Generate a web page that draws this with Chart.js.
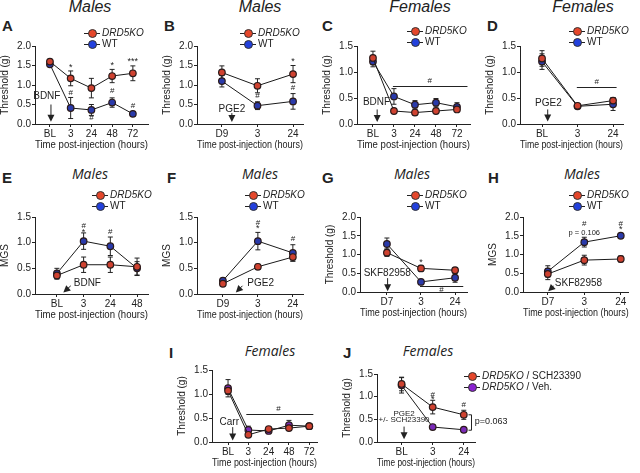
<!DOCTYPE html>
<html lang="en">
<head>
<meta charset="UTF-8">
<title>DRD5KO panels</title>
<script src="https://cdn.jsdelivr.net/npm/chart.js"></script>
<style>
    body { margin:0; width:640px; height:473px; position:relative; overflow:hidden; background:#fff;
           font-family:"Liberation Sans Narrow","Liberation Sans",Arial,sans-serif; color:#222; }
    canvas { position:absolute; }
    .ttl { position:absolute; font-style:italic; line-height:1; white-space:nowrap; transform:translateX(-50%); }
    .r1 { font-family:"Liberation Sans",Arial,sans-serif; font-size:16px; }
    .r2 { font-family:"Open Sans",sans-serif; font-size:14px; }
    .let { position:absolute; font-family:"Liberation Sans",Arial,sans-serif; font-weight:bold; font-size:15px; line-height:1; }
    .lg { position:absolute; font-size:10px; line-height:10.5px; white-space:nowrap; }
    .lg div { height:10.5px; }
    .mk { display:inline-block; position:relative; width:16px; height:10.5px; vertical-align:top; margin-right:2px; }
    .mk:before { content:""; position:absolute; left:0; right:0; top:5px; border-top:1px solid #222; }
    .mk:after { content:""; position:absolute; left:3.5px; top:1px; width:7px; height:7px; border-radius:50%;
                background:var(--c); border:1px solid #333; }
</style>
</head>
<body>
<div class="let" style="left:2px;top:18px">A</div>
<div class="let" style="left:164px;top:18px">B</div>
<div class="let" style="left:322px;top:18px">C</div>
<div class="let" style="left:487px;top:18px">D</div>
<div class="let" style="left:2px;top:170px">E</div>
<div class="let" style="left:167px;top:170px">F</div>
<div class="let" style="left:322px;top:170px">G</div>
<div class="let" style="left:488px;top:170px">H</div>
<div class="let" style="left:169px;top:345px">I</div>
<div class="let" style="left:343px;top:345px">J</div>

<div class="ttl r1" style="left:90px;top:-1px">Males</div>
<div class="ttl r1" style="left:260px;top:-1px">Males</div>
<div class="ttl r1" style="left:420px;top:-1px">Females</div>
<div class="ttl r1" style="left:583px;top:-1px">Females</div>
<div class="ttl r2" style="left:90px;top:167px">Males</div>
<div class="ttl r2" style="left:260px;top:167px">Males</div>
<div class="ttl r2" style="left:412px;top:167px">Males</div>
<div class="ttl r2" style="left:582px;top:167px">Males</div>
<div class="ttl r2" style="left:270px;top:344px">Females</div>
<div class="ttl r2" style="left:428px;top:344px">Females</div>

<script>
// categories (x tick labels)
const catsBL5 = ['BL', '3', '24', '48', '72'];
const catsD9 = ['D9', '3', '24'];
const catsBL3 = ['BL', '3', '24'];
const catsBL4 = ['BL', '3', '24', '48'];
const catsD7 = ['D7', '3', '24'];

// A: males, threshold after BDNF
const koA = [1.60, 1.17, 0.92, 1.23, 1.30];
const koErrA = [0.05, 0.19, 0.25, 0.17, 0.19];
const wtA = [1.53, 0.41, 0.36, 0.55, 0.26];
const wtErrA = [0.04, 0.27, 0.14, 0.12, 0.06];
// B: males, threshold after PGE2
const koB = [1.32, 0.98, 1.28];
const koErrB = [0.17, 0.18, 0.22];
const wtB = [1.10, 0.47, 0.58];
const wtErrB = [0.15, 0.10, 0.20];
// C: females, threshold after BDNF
const koC = [1.27, 0.25, 0.22, 0.25, 0.28];
const koErrC = [0.13, 0.03, 0.05, 0.05, 0.04];
const wtC = [1.20, 0.53, 0.37, 0.41, 0.33];
const wtErrC = [0.10, 0.15, 0.08, 0.08, 0.08];
// D: females, threshold after PGE2
const koD = [1.26, 0.35, 0.45];
const koErrD = [0.15, 0.04, 0.06];
const wtD = [1.20, 0.34, 0.38];
const wtErrD = [0.15, 0.04, 0.12];
// E: males, MGS after BDNF
const koE = [0.36, 0.57, 0.57, 0.53];
const koErrE = [0.07, 0.15, 0.15, 0.17];
const wtE = [0.40, 1.03, 0.93, 0.50];
const wtErrE = [0.10, 0.16, 0.18, 0.13];
// F: males, MGS after PGE2
const koF = [0.20, 0.53, 0.72];
const koErrF = [0.03, 0.05, 0.08];
const wtF = [0.26, 1.03, 0.80];
const wtErrF = [0.03, 0.17, 0.16];
// G: males, threshold after SKF82958
const koG = [1.05, 0.63, 0.58];
const koErrG = [0.10, 0.08, 0.07];
const wtG = [1.28, 0.27, 0.38];
const wtErrG = [0.16, 0.04, 0.12];
// H: males, MGS after SKF82958
const koH = [0.48, 0.85, 0.88];
const koErrH = [0.15, 0.13, 0.08];
const wtH = [0.55, 1.33, 1.50];
const wtErrH = [0.15, 0.13, 0.05];
// I: females, threshold after carrageenan
const schI = [1.07, 0.15, 0.27, 0.29, 0.33];
const schErrI = [0.08, 0.03, 0.04, 0.03, 0.03];
const vehI = [1.12, 0.25, 0.23, 0.35, 0.33];
const vehErrI = [0.18, 0.08, 0.04, 0.10, 0.03];
// J: females, threshold after PGE2 +/- SCH23390
const schJ = [1.28, 0.77, 0.60];
const schErrJ = [0.15, 0.15, 0.10];
const vehJ = [1.25, 0.33, 0.27];
const vehErrJ = [0.17, 0.05, 0.05];

const names = ['DRD5KO', 'WT'];
const namesJ = ['DRD5KO / SCH23390', 'DRD5KO / Veh.'];

// marker fills on the plots are a bit darker than in the legends
const RED = '#cf4230', BLUE = '#2a3aaa', PURPLE = '#7a2ab8';
const LG_RED = '#e5472b', LG_BLUE = '#2341dd', LG_PURPLE = '#8a22d0';
const FONT = '"Liberation Sans Narrow","Liberation Sans",Arial,sans-serif';
const FONT_Y = '"Liberation Sans",Arial,sans-serif';
Chart.defaults.font.family = FONT;
Chart.defaults.font.size = 10;
Chart.defaults.color = '#222';

// error bars, drawn behind the points
const errBars = {
    id: 'errBars',
    beforeDatasetsDraw(chart) {
        const {ctx, scales: {x, y}} = chart;
        ctx.save();
        ctx.strokeStyle = '#222';
        ctx.lineWidth = 1;
        chart.data.datasets.forEach(ds => {
            ds.data.forEach((pt, i) => {
                const e = ds.err[i];
                const px = x.getPixelForValue(pt.x);
                const a = y.getPixelForValue(pt.y + e), b = y.getPixelForValue(pt.y - e);
                ctx.beginPath();
                ctx.moveTo(px, a); ctx.lineTo(px, b);
                ctx.moveTo(px - 2.5, a); ctx.lineTo(px + 2.5, a);
                ctx.moveTo(px - 2.5, b); ctx.lineTo(px + 2.5, b);
                ctx.stroke();
            });
        });
        ctx.restore();
    }
};

// significance marks, arrows, lines
function notesPlugin(notes) {
    return {
        id: 'notes',
        afterDatasetsDraw(chart) {
            const {ctx, scales: {x, y}} = chart;
            ctx.save();
            ctx.strokeStyle = '#222';
            ctx.fillStyle = '#222';
            ctx.lineWidth = 1;
            notes.forEach(n => {
                if (n.t === 'txt') {
                    ctx.font = (n.size || 8) + 'px ' + FONT;
                    ctx.textAlign = n.align || 'center';
                    ctx.textBaseline = 'middle';
                    ctx.fillText(n.s, x.getPixelForValue(n.x), y.getPixelForValue(n.y));
                } else if (n.t === 'hl') {
                    const yy = Math.round(y.getPixelForValue(n.y)) + 0.5;
                    ctx.beginPath();
                    ctx.moveTo(x.getPixelForValue(n.x1), yy);
                    ctx.lineTo(x.getPixelForValue(n.x2), yy);
                    ctx.stroke();
                } else if (n.t === 'arr') {
                    const x1 = x.getPixelForValue(n.x1), y1 = y.getPixelForValue(n.y1);
                    const x2 = x.getPixelForValue(n.x2), y2 = y.getPixelForValue(n.y2);
                    const ang = Math.atan2(y2 - y1, x2 - x1);
                    const c = Math.cos(ang), s = Math.sin(ang);
                    ctx.beginPath();
                    ctx.moveTo(x1, y1); ctx.lineTo(x2 - 5 * c, y2 - 5 * s);
                    ctx.stroke();
                    ctx.beginPath();
                    ctx.moveTo(x2, y2);
                    ctx.lineTo(x2 - 7 * c + 3.5 * s, y2 - 7 * s - 3.5 * c);
                    ctx.lineTo(x2 - 7 * c - 3.5 * s, y2 - 7 * s + 3.5 * c);
                    ctx.closePath();
                    ctx.fill();
                } else if (n.t === 'br') {
                    const bx = Math.round(x.getPixelForValue(n.x)) + 0.5;
                    const a = y.getPixelForValue(n.y1), b = y.getPixelForValue(n.y2);
                    ctx.beginPath();
                    ctx.moveTo(bx - 3, a); ctx.lineTo(bx, a); ctx.lineTo(bx, b); ctx.lineTo(bx - 3, b);
                    ctx.stroke();
                }
            });
            ctx.restore();
        }
    };
}

const panels = [
    {cats: catsBL5, sets: [[koA, koErrA, RED], [wtA, wtErrA, BLUE]], ymax: 2, ytitle: 'Threshold (g)',
     x0: 35, x1: 148, yT: 46, yB: 124, xmin: -0.72, xmax: 4.73,
     notes: [
        {t: 'txt', x: 1, y: 1.45, s: '*', size: 9}, {t: 'txt', x: 1, y: 0.8, s: '#'},
        {t: 'txt', x: 2, y: 0.15, s: '#'}, {t: 'txt', x: 3, y: 1.49, s: '*', size: 9},
        {t: 'txt', x: 3, y: 0.85, s: '#'}, {t: 'txt', x: 4, y: 1.6, s: '***', size: 9},
        {t: 'txt', x: 4, y: 0.46, s: '#'},
        {t: 'txt', x: -0.15, y: 0.7, s: 'BDNF', size: 10},
        {t: 'arr', x1: 0.05, y1: 0.5, x2: 0.05, y2: 0.06}]},
    {cats: catsD9, sets: [[koB, koErrB, RED], [wtB, wtErrB, BLUE]], ymax: 2, ytitle: 'Threshold (g)',
     x0: 197, x1: 303, yT: 46, yB: 124, xmin: -0.7, xmax: 2.28,
     notes: [
        {t: 'txt', x: 2, y: 1.6, s: '*', size: 9}, {t: 'txt', x: 1, y: 0.72, s: '#'},
        {t: 'txt', x: 2, y: 0.93, s: '#'},
        {t: 'txt', x: 0.28, y: 0.38, s: 'PGE2', size: 10},
        {t: 'arr', x1: 0.28, y1: 0.28, x2: 0.28, y2: 0.05}]},
    {cats: catsBL5, sets: [[koC, koErrC, RED], [wtC, wtErrC, BLUE]], ymax: 1.5, ytitle: 'Threshold (g)',
     x0: 357, x1: 470, yT: 46, yB: 124, xmin: -0.76, xmax: 4.62,
     notes: [
        {t: 'hl', x1: 0.95, x2: 4.5, y: 0.73}, {t: 'txt', x: 2.7, y: 0.84, s: '#'},
        {t: 'txt', x: 0.17, y: 0.42, s: 'BDNF', size: 10},
        {t: 'arr', x1: 0.2, y1: 0.28, x2: 0.2, y2: 0.04}]},
    {cats: catsBL3, sets: [[koD, koErrD, RED], [wtD, wtErrD, BLUE]], ymax: 1.5, ytitle: 'Threshold (g)',
     x0: 520, x1: 623, yT: 46, yB: 124, xmin: -0.62, xmax: 2.28,
     notes: [
        {t: 'hl', x1: 0.98, x2: 2.1, y: 0.71}, {t: 'txt', x: 1.54, y: 0.82, s: '#'},
        {t: 'txt', x: 0.18, y: 0.4, s: 'PGE2', size: 10},
        {t: 'arr', x1: 0.16, y1: 0.28, x2: 0.16, y2: 0.05}]},
    {cats: catsBL4, sets: [[koE, koErrE, RED], [wtE, wtErrE, BLUE]], ymax: 1.5, ytitle: 'MGS',
     x0: 35, x1: 148, yT: 217, yB: 294, xmin: -0.82, xmax: 3.41,
     notes: [
        {t: 'txt', x: 1, y: 1.32, s: '#'}, {t: 'txt', x: 1, y: 1.2, s: '*', size: 9},
        {t: 'txt', x: 2, y: 1.22, s: '#'},
        {t: 'txt', x: 1.14, y: 0.21, s: 'BDNF', size: 10},
        {t: 'arr', x1: 0.52, y1: 0.16, x2: 0.24, y2: 0.03}]},
    {cats: catsD9, sets: [[koF, koErrF, RED], [wtF, wtErrF, BLUE]], ymax: 1.5, ytitle: 'MGS',
     x0: 197, x1: 303, yT: 217, yB: 294, xmin: -0.74, xmax: 2.29,
     notes: [
        {t: 'txt', x: 1, y: 1.38, s: '#'}, {t: 'txt', x: 1, y: 1.27, s: '*', size: 9},
        {t: 'txt', x: 2, y: 1.07, s: '#'},
        {t: 'txt', x: 1.08, y: 0.21, s: 'PGE2', size: 10},
        {t: 'arr', x1: 0.56, y1: 0.16, x2: 0.37, y2: 0.03}]},
    {cats: catsD7, sets: [[koG, koErrG, RED], [wtG, wtErrG, BLUE]], ymax: 2, ytitle: 'Threshold (g)',
     x0: 360, x1: 467, yT: 217, yB: 292, xmin: -0.79, xmax: 2.35,
     notes: [
        {t: 'txt', x: 1, y: 0.78, s: '*', size: 9},
        {t: 'hl', x1: 0.97, x2: 2.24, y: 0.15}, {t: 'txt', x: 1.6, y: 0.07, s: '#'},
        {t: 'txt', x: 0.01, y: 0.5, s: 'SKF82958', size: 10},
        {t: 'arr', x1: 0.02, y1: 0.37, x2: 0.02, y2: 0.02}]},
    {cats: catsD7, sets: [[koH, koErrH, RED], [wtH, wtErrH, BLUE]], ymax: 2, ytitle: 'MGS',
     x0: 523, x1: 630, yT: 217, yB: 292, xmin: -0.68, xmax: 2.22, padR: 4,
     notes: [
        {t: 'txt', x: 1, y: 1.81, s: '#'}, {t: 'txt', x: 1, y: 1.58, s: 'p = 0.106', size: 7.5},
        {t: 'txt', x: 2, y: 1.83, s: '#'}, {t: 'txt', x: 2, y: 1.67, s: '*', size: 9},
        {t: 'txt', x: 0.84, y: 0.24, s: 'SKF82958', size: 10},
        {t: 'arr', x1: 0.16, y1: 0.16, x2: 0.01, y2: 0.02}]},
    {cats: catsBL5, sets: [[schI, schErrI, RED], [vehI, vehErrI, PURPLE]], ymax: 1.5, ytitle: 'Threshold (g)',
     x0: 212, x1: 317, yT: 370, yB: 442, xmin: -0.79, xmax: 4.38,
     notes: [
        {t: 'hl', x1: 0.9, x2: 4.2, y: 0.59}, {t: 'txt', x: 2.48, y: 0.69, s: '#'},
        {t: 'txt', x: 0.06, y: 0.42, s: 'Carr', size: 10},
        {t: 'arr', x1: 0.23, y1: 0.31, x2: 0.23, y2: 0.03}]},
    {cats: catsBL3, sets: [[schJ, schErrJ, RED], [vehJ, vehErrJ, PURPLE]], ymax: 1.5, ytitle: 'Threshold (g)',
     x0: 377, x1: 475, yT: 374, yB: 442, xmin: -0.79, xmax: 2.36, padR: 32,
     notes: [
        {t: 'txt', x: 1, y: 1.05, s: '#'}, {t: 'txt', x: 1, y: 0.93, s: '*', size: 9},
        {t: 'txt', x: 2, y: 0.82, s: '#'},
        {t: 'txt', x: 0.08, y: 0.63, s: 'PGE2', size: 8},
        {t: 'txt', x: 0.08, y: 0.49, s: '+/- SCH23390', size: 8},
        {t: 'arr', x1: 0.08, y1: 0.34, x2: 0.08, y2: 0.06},
        {t: 'br', x: 2.24, y1: 0.6, y2: 0.26},
        {t: 'txt', x: 2.35, y: 0.45, s: 'p=0.063', size: 9, align: 'left'}]}
];

panels.forEach(p => {
    const padR = p.padR || 6;
    const left = Math.round(p.x0 - 36), top = Math.round(p.yT - 8);
    const cv = document.createElement('canvas');
    cv.width = Math.round(p.x1 + padR - left);
    cv.height = Math.round(p.yB + 27 - top);
    cv.style.left = left + 'px';
    cv.style.top = top + 'px';
    document.body.appendChild(cv);

    new Chart(cv, {
        type: 'line',
        data: {
            datasets: p.sets.map(s => ({
                data: s[0].map((v, i) => ({x: i, y: v})),
                err: s[1],
                borderColor: '#1a1a1a',
                borderWidth: 1,
                pointBackgroundColor: s[2],
                pointBorderColor: '#2a1a1a',
                pointBorderWidth: 1.2,
                pointRadius: 3.3,
                tension: 0,
                fill: false
            }))
        },
        options: {
            responsive: false,
            animation: false,
            layout: {padding: {top: 8, right: padR, left: 0, bottom: 0}},
            plugins: {legend: {display: false}, tooltip: {enabled: false}},
            scales: {
                x: {
                    type: 'linear', min: p.xmin, max: p.xmax,
                    afterBuildTicks: s => { s.ticks = p.cats.map((c, i) => ({value: i})); },
                    afterFit: s => { s.height = 27; },
                    ticks: {callback: v => p.cats[v], padding: 1, autoSkip: false, maxRotation: 0},
                    grid: {drawOnChartArea: false, tickLength: 3, color: '#222'},
                    border: {color: '#222'},
                    title: {display: true, text: 'Time post-injection (hours)', padding: 0}
                },
                y: {
                    min: 0, max: p.ymax,
                    afterFit: s => { s.width = 36; },
                    ticks: {stepSize: 0.5, callback: v => v.toFixed(1), padding: 1},
                    grid: {drawOnChartArea: false, tickLength: 3, color: '#222'},
                    border: {color: '#222'},
                    title: {display: true, text: p.ytitle, padding: 0, font: {family: FONT_Y, size: 10}}
                }
            }
        },
        plugins: [errBars, notesPlugin(p.notes)]
    });
});

// legends
const legendSpots = [
    [92, 33, names], [248, 33, names], [415, 31, names], [577, 31, names],
    [100, 195, names], [253, 195, names], [415, 195, names], [577, 195, names],
    [472, 376, namesJ]
];
legendSpots.forEach(([cx, cy, labels], k) => {
    const box = document.createElement('div');
    box.className = 'lg';
    box.style.left = (cx - 8) + 'px';
    box.style.top = (cy - 5) + 'px';
    const cols = k === 8 ? [LG_RED, LG_PURPLE] : [LG_RED, LG_BLUE];
    labels.forEach((lab, i) => {
        const row = document.createElement('div');
        const mk = document.createElement('span');
        mk.className = 'mk';
        mk.style.setProperty('--c', cols[i]);
        row.appendChild(mk);
        const parts = lab.split(' / ');
        const it = document.createElement(parts[0] === 'DRD5KO' ? 'i' : 'span');
        it.textContent = parts[0];
        row.appendChild(it);
        if (parts[1]) row.appendChild(document.createTextNode(' / ' + parts[1]));
        box.appendChild(row);
    });
    document.body.appendChild(box);
});
</script>
</body>
</html>
